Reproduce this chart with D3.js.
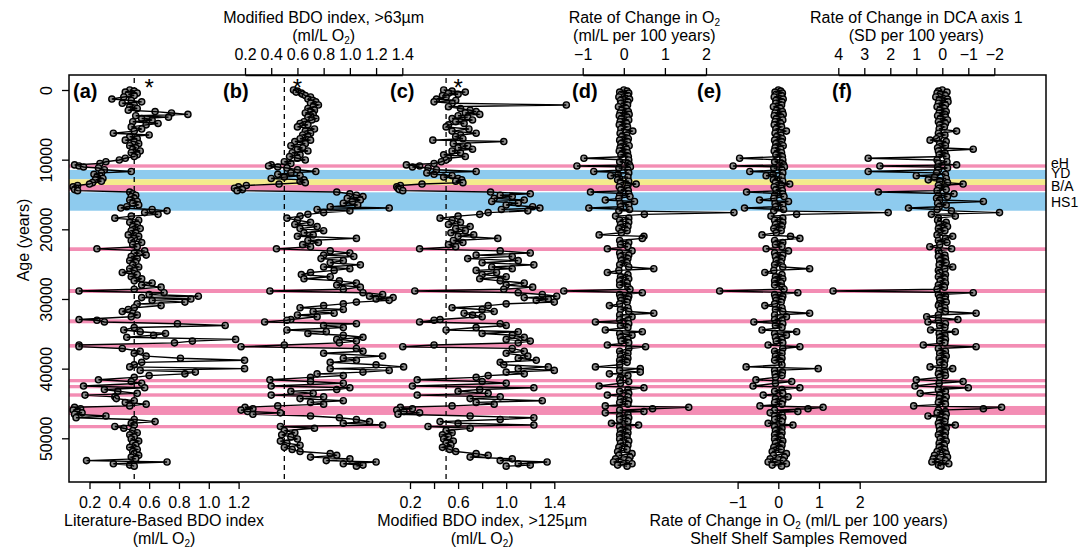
<!DOCTYPE html>
<html>
<head>
<meta charset="utf-8">
<script src="https://cdn.jsdelivr.net/npm/d3@7"></script>
<style>
  body { margin: 0; background: #fff; }
  svg { font-family: 'Liberation Sans', Arial, sans-serif; }
</style>
</head>
<body>
<svg id="coresvg" width="1091" height="552"></svg>
<script>
// sample ages (years)
const ages = [
  0, 150, 300, 450, 600, 800, 1000, 1300, 1500, 1700,
  1900, 2150, 2400, 2650, 2900, 3100, 3300, 3500, 3700, 3900,
  4100, 4300, 4550, 4800, 5000, 5300, 5600, 5900, 6200, 6450,
  6700, 7000, 7200, 7400, 7700, 8000, 8300, 8500, 8750, 9000,
  9300, 9550, 9800, 10050, 10300, 10550, 10750, 10900, 11050, 11200,
  11450, 11700, 11900, 12100, 12300, 12500, 12700, 12900, 13100, 13300,
  13500, 13700, 13900, 14100, 14300, 14450, 14650, 14900, 15100, 15300,
  15550, 15800, 16000, 16250, 16500, 16750, 16950, 17150, 17350, 17600,
  17850, 18100, 18400, 18700, 19000, 19300, 19600, 19900, 20200, 20500,
  20800, 21000, 21300, 21600, 21900, 22200, 22500, 22800, 23100, 23400,
  23700, 23900, 24200, 24500, 24800, 25100, 25400, 25650, 25900, 26200,
  26500, 26800, 27100, 27400, 27700, 28000, 28300, 28600, 28850, 29100,
  29350, 29600, 29800, 30000, 30200, 30450, 30700, 30950, 31250, 31500,
  31800, 32050, 32300, 32550, 32950, 33050, 33300, 33550, 33800, 34100,
  34450, 34700, 34950, 35200, 35500, 35800, 36050, 36300, 36600, 36850,
  37100, 37500, 37800, 38200, 38500, 38800, 39100, 39450, 39750, 40000,
  40250, 40500, 40750, 41000, 41250, 41600, 41850, 42100, 42500, 42750,
  43000, 43250, 43550, 43800, 44050, 44300, 44600, 44850, 45100, 45350,
  45550, 45750, 45950, 46150, 46350, 46550, 46800, 47050, 47300, 47600,
  47850, 48100, 48300, 48550, 48900, 49200, 49500, 49800, 50100, 50400,
  50700, 51000, 51300, 51600, 51900, 52200, 52450, 52700, 52950, 53200,
  53400, 53650, 53850, 54000
];

// (a) literature-based BDO index
const bdoLit = [
  0.47, 0.50, 0.44, 0.52, 0.46, 0.50, 0.43, 0.35, 0.48, 0.55,
  0.42, 0.50, 0.47, 0.52, 0.46, 0.64, 0.75, 0.86, 0.51, 0.73,
  0.55, 0.62, 0.49, 0.66, 0.58, 0.48, 0.55, 0.50, 0.36, 0.60,
  0.47, 0.52, 0.44, 0.50, 0.53, 0.47, 0.51, 0.49, 0.54, 0.48,
  0.52, 0.50, 0.44, 0.40, 0.31, 0.27, 0.10, 0.13, 0.16, 0.26,
  0.30, 0.48, 0.28, 0.23, 0.27, 0.25, 0.29, 0.24, 0.28, 0.22,
  0.20, 0.12, 0.09, 0.11, 0.10, 0.12, 0.47, 0.49, 0.51, 0.48,
  0.50, 0.47, 0.52, 0.49, 0.53, 0.45, 0.41, 0.62, 0.72, 0.57,
  0.66, 0.48, 0.37, 0.53, 0.47, 0.52, 0.49, 0.54, 0.48, 0.51,
  0.46, 0.53, 0.50, 0.48, 0.55, 0.49, 0.52, 0.25, 0.57, 0.50,
  0.58, 0.48, 0.52, 0.47, 0.51, 0.49, 0.53, 0.47, 0.50, 0.42,
  0.52, 0.48, 0.55, 0.50, 0.62, 0.55, 0.68, 0.50, 0.13, 0.70,
  0.60, 0.93, 0.55, 0.88, 0.62, 0.84, 0.52, 0.68, 0.50, 0.46,
  0.42, 0.49, 0.52, 0.48, 0.13, 0.25, 0.30, 0.79, 1.11, 0.50,
  0.43, 0.54, 0.71, 0.63, 0.45, 1.18, 0.89, 0.77, 0.13, 0.13,
  0.42, 0.54, 0.50, 0.58, 0.81, 1.24, 0.55, 0.50, 0.47, 1.24,
  0.54, 0.91, 0.84, 0.60, 0.50, 0.26, 0.48, 0.55, 0.16, 0.57,
  0.30, 0.39, 0.52, 0.17, 0.37, 0.38, 0.50, 0.44, 0.58, 0.47,
  0.10, 0.14, 0.09, 0.12, 0.15, 0.10, 0.31, 0.11, 0.50, 0.64,
  0.48, 0.50, 0.37, 0.43, 0.49, 0.52, 0.47, 0.50, 0.48, 0.53,
  0.49, 0.51, 0.47, 0.52, 0.49, 0.50, 0.53, 0.48, 0.51, 0.18,
  0.72, 0.36, 0.47, 0.50
];

// (b) modified BDO index, >63um
const bdo63 = [
  0.57, 0.60, 0.59, 0.63, 0.64, 0.66, 0.70, 0.68, 0.72, 0.74,
  0.70, 0.76, 0.72, 0.68, 0.73, 0.70, 0.66, 0.72, 0.70, 0.68,
  0.74, 0.71, 0.65, 0.62, 0.68, 0.60, 0.73, 0.66, 0.70, 0.64,
  0.68, 0.62, 0.70, 0.58, 0.66, 0.55, 0.64, 0.60, 0.68, 0.56,
  0.62, 0.54, 0.60, 0.66, 0.50, 0.55, 0.40, 0.38, 0.45, 0.52,
  0.60, 0.74, 0.55, 0.45, 0.62, 0.50, 0.40, 0.65, 0.62, 0.66,
  0.46, 0.21, 0.15, 0.12, 0.18, 0.14, 0.90, 1.00, 1.05, 1.10,
  0.98, 1.08, 1.02, 0.95, 1.06, 0.85, 1.30, 0.75, 1.00, 0.80,
  0.68, 0.62, 0.52, 0.60, 0.70, 0.58, 0.75, 0.62, 0.80, 0.65,
  0.72, 0.60, 1.05, 0.68, 0.76, 0.64, 0.70, 0.44, 0.85, 1.00,
  0.80, 1.03, 0.78, 0.95, 0.85, 1.08, 0.80, 1.00, 0.88, 0.70,
  0.63, 0.85, 0.65, 0.92, 1.05, 0.90, 1.08, 0.95, 0.39, 1.10,
  1.25, 1.15, 1.33, 1.20, 1.30, 1.05, 0.95, 0.80, 0.62, 0.95,
  0.72, 0.88, 0.60, 0.75, 0.55, 0.52, 0.35, 1.05, 0.80, 0.95,
  0.52, 0.82, 0.68, 0.95, 1.10, 0.90, 1.05, 0.92, 0.50, 0.17,
  1.05, 1.10, 0.80, 1.25, 0.95, 1.05, 0.85, 1.20, 1.41, 0.85,
  1.30, 1.10, 0.75, 0.95, 0.70, 0.39, 0.70, 0.95, 0.40, 1.00,
  0.90, 0.55, 0.72, 0.40, 0.80, 0.62, 0.95, 0.70, 0.80, 0.45,
  0.20, 0.26, 0.17, 0.22, 0.47, 0.26, 0.70, 0.92, 1.05, 1.15,
  0.95, 1.25, 0.47, 0.73, 0.50, 0.58, 0.48, 0.55, 0.60, 0.47,
  0.52, 0.62, 0.50, 0.56, 0.62, 0.85, 0.90, 0.70, 1.00, 0.82,
  1.20, 0.95, 1.10, 1.05
];

// (c) modified BDO index, >125um
const bdo125 = [
  0.48, 0.55, 0.66, 0.52, 0.60, 0.47, 0.50, 0.42, 0.58, 0.40,
  0.55, 1.50, 0.52, 0.62, 0.70, 0.75, 0.66, 0.78, 0.60, 0.68,
  0.55, 0.72, 0.58, 0.65, 0.52, 0.50, 0.69, 0.55, 0.75, 0.62,
  0.58, 0.64, 0.39, 0.98, 0.56, 0.68, 0.60, 0.72, 0.55, 0.62,
  0.48, 0.66, 0.52, 0.50, 0.46, 0.40, 0.17, 0.28, 0.22, 0.35,
  0.42, 0.75, 0.34, 0.40, 0.55, 0.48, 0.60, 0.63, 0.58, 0.64,
  0.30, 0.12, 0.09, 0.10, 0.11, 0.14, 0.87, 1.20, 0.95, 1.05,
  0.90, 1.15, 0.88, 1.10, 1.00, 1.22, 1.28, 0.96, 1.18, 0.85,
  0.78, 0.60, 0.45, 0.55, 0.62, 0.52, 0.70, 0.58, 0.66, 0.54,
  0.73, 0.60, 0.93, 0.56, 0.64, 0.52, 0.58, 0.28, 0.95, 1.20,
  0.75, 1.05, 0.68, 1.10, 0.80, 1.23, 0.88, 1.05, 0.75, 0.92,
  0.80, 1.00, 0.78, 0.95, 1.15, 1.00, 1.22, 0.98, 0.24, 1.10,
  1.30, 1.42, 1.15, 1.35, 1.25, 1.40, 1.00, 0.85, 0.55, 0.80,
  0.90, 0.65, 0.72, 0.80, 0.45, 0.40, 0.28, 0.95, 1.00, 0.75,
  0.50, 1.10, 0.80, 1.05, 1.15, 1.00, 1.20, 1.10, 0.40, 0.14,
  1.05, 1.15, 1.00, 1.18, 1.10, 1.25, 0.95, 0.98, 1.35, 1.10,
  1.40, 1.00, 1.15, 0.85, 0.75, 0.26, 0.80, 1.00, 0.22, 1.23,
  0.78, 0.60, 0.85, 0.26, 0.95, 0.70, 1.30, 0.75, 0.90, 0.55,
  0.12, 0.22, 0.09, 0.15, 0.28, 0.10, 0.70, 1.23, 0.95, 0.45,
  0.60, 1.23, 0.35, 0.70, 0.50, 0.55, 0.47, 0.52, 0.48, 0.56,
  0.50, 0.54, 0.47, 0.53, 0.58, 0.75, 0.85, 0.70, 1.05, 0.95,
  1.34, 1.10, 1.20, 1.00
];

// (d) rate of change in O2, ml/L per 100 years
const rateO2 = [
  0.00, 0.08, -0.10, 0.12, -0.06, 0.10, -0.12, 0.14, -0.08, 0.10,
  -0.07, 0.09, -0.13, 0.06, -0.05, 0.11, -0.09, 0.13, -0.11, 0.08,
  -0.06, 0.12, -0.09, 0.07, -0.11, 0.09, -0.07, 0.22, -0.09, 0.07,
  -0.05, 0.11, -0.10, 0.09, -0.07, 0.13, -0.09, 0.07, -0.11, 0.09,
  -0.07, 0.11, -0.97, 0.12, -0.10, 0.10, 0.14, -1.14, 0.16, -0.12,
  0.10, -0.73, 0.12, -0.14, -0.32, 0.10, -0.10, -0.15, 0.12, -0.08,
  0.30, 0.10, -0.11, 0.08, -0.07, 0.11, -0.81, 0.12, -0.10, 0.15,
  -0.12, -0.45, 0.26, -0.09, 0.12, -0.08, -0.85, 0.14, -0.12, 2.68,
  0.50, -0.20, 0.12, -0.10, 0.12, -0.08, 0.10, -0.12, 0.08, -0.06,
  -0.60, 0.49, 0.45, -0.10, 0.12, -0.08, 0.10, -0.40, 0.20, -0.10,
  0.12, -0.08, 0.10, -0.06, 0.08, -0.10, 0.12, 0.73, -0.12, -0.40,
  0.10, -0.08, 0.12, -0.10, 0.08, -0.10, 0.10, 0.15, -1.46, 0.45,
  -0.10, 0.12, -0.08, 0.10, -0.06, 0.08, -0.10, -0.35, 0.10, -0.08,
  0.12, 0.73, -0.10, 0.20, -0.10, 0.10, -0.69, 0.12, -0.08, 0.10,
  -0.45, 0.45, -0.10, 0.20, -0.08, 0.10, -0.06, 0.12, -0.40, 0.53,
  0.12, -0.10, 0.10, -0.08, 0.10, -0.10, 0.08, -0.10, -0.69, 0.40,
  -0.10, 0.40, -0.35, 0.10, -0.08, -0.10, 0.12, -0.08, -0.60, 0.49,
  0.10, -0.10, 0.12, -0.40, 0.10, -0.08, 0.12, -0.10, 0.10, -0.45,
  1.58, 0.70, -0.10, 0.49, -0.45, 0.10, -0.10, 0.12, -0.10, 0.10,
  -0.30, 0.36, -0.10, 0.10, -0.08, 0.10, -0.10, 0.08, -0.10, 0.12,
  -0.08, 0.10, -0.12, 0.08, -0.15, 0.20, -0.12, 0.15, -0.20, 0.12,
  -0.25, 0.20, -0.15, 0.08
];

// (e) rate of change in O2, shelf samples removed
const rateO2Shelf = [
  0.00, 0.06, -0.08, 0.10, -0.05, 0.08, -0.10, 0.12, -0.06, 0.09,
  -0.06, 0.08, -0.12, 0.05, -0.04, 0.10, -0.08, 0.12, -0.10, 0.07,
  -0.05, 0.11, -0.08, 0.06, -0.10, 0.08, -0.06, 0.20, -0.08, 0.06,
  -0.04, 0.10, -0.09, 0.08, -0.06, 0.12, -0.08, 0.06, -0.10, 0.08,
  -0.06, 0.10, -0.95, 0.11, -0.09, 0.09, 0.13, -1.11, 0.15, -0.11,
  0.09, -0.70, 0.11, -0.13, -0.30, 0.09, -0.09, -0.12, 0.11, -0.07,
  0.28, 0.09, -0.10, 0.07, -0.06, 0.10, -0.78, 0.11, -0.09, 0.14,
  -0.11, -0.46, 0.25, -0.08, 0.11, -0.07, -0.83, 0.13, -0.11, 2.70,
  0.45, -0.18, 0.11, -0.09, 0.11, -0.07, 0.09, -0.11, 0.07, -0.05,
  -0.40, 0.30, 0.53, -0.09, 0.11, -0.07, 0.09, -0.30, 0.25, -0.09,
  0.11, -0.07, 0.09, -0.05, 0.07, -0.09, 0.11, 0.77, -0.11, -0.33,
  0.09, -0.07, 0.11, -0.09, 0.07, -0.09, 0.09, 0.14, -1.44, 0.48,
  -0.09, 0.11, -0.07, 0.09, -0.05, 0.07, -0.09, -0.33, 0.09, -0.07,
  0.11, 0.77, -0.09, 0.20, -0.09, 0.09, -0.60, 0.11, -0.07, 0.09,
  -0.40, 0.45, -0.09, 0.20, -0.07, 0.09, -0.05, 0.11, -0.25, 0.53,
  0.11, -0.09, 0.09, -0.07, 0.09, -0.09, 0.07, 0.09, -0.79, 0.98,
  -0.09, 0.10, -0.08, 0.09, -0.07, -0.55, 0.33, -0.07, -0.62, 0.53,
  0.09, -0.09, 0.11, -0.37, 0.24, -0.07, 0.11, -0.09, 0.09, -0.45,
  1.10, 0.73, -0.09, 0.48, -0.20, 0.09, -0.09, 0.11, -0.09, 0.09,
  -0.25, 0.36, -0.09, 0.09, -0.07, 0.09, -0.09, 0.07, -0.09, 0.11,
  -0.07, 0.09, -0.11, 0.07, -0.15, 0.20, -0.12, 0.15, -0.20, 0.12,
  -0.25, 0.20, -0.15, 0.08
];

// (f) rate of change in DCA axis 1, SD per 100 years
const rateDCA = [
  0.00, 0.15, -0.18, 0.20, 0.08, -0.12, 0.25, -0.20, 0.12, -0.22,
  0.15, -0.12, 0.20, -0.08, 0.10, -0.15, 0.12, -0.10, 0.18, -0.12,
  0.08, -0.20, 0.15, -0.12, 0.10, -0.08, 0.12, -0.55, 0.15, -0.10,
  0.12, 0.22, 0.47, -0.15, 0.10, -0.12, 0.18, -1.19, 0.15, -0.10,
  0.12, -0.16, 2.85, 0.20, -0.18, 0.15, -0.55, 2.40, 0.18, -0.20,
  0.15, 2.85, 0.22, -0.12, 1.00, 0.30, -0.15, 0.54, 0.10, -0.20,
  -0.80, 0.15, -0.10, 0.12, -0.15, 0.20, 2.46, -0.45, 0.15, -0.20,
  0.22, 0.10, -1.58, 0.18, -0.15, 0.12, 1.30, 0.20, -0.35, -2.20,
  0.42, -0.50, 0.15, 0.18, -0.15, 0.12, -0.20, 0.15, -0.10, 0.12,
  0.20, -0.40, -0.12, 0.15, -0.18, 0.10, 0.48, -0.36, 0.15, 0.12,
  -0.10, 0.15, -0.12, 0.10, -0.15, 0.12, -0.40, -0.10, 0.15, 0.10,
  -0.12, 0.15, -0.10, 0.08, -0.12, 0.15, -0.08, 0.20, 4.20, -1.19,
  0.15, -0.12, 0.10, -0.10, 0.08, -0.15, 0.12, 0.15, -0.10, 0.08,
  -0.12, -1.30, 0.15, 0.60, -0.60, 0.15, 0.55, -0.12, 0.10, -0.10,
  0.45, -0.50, 0.12, -0.10, 0.10, -0.12, 0.10, -0.10, 0.73, -1.30,
  0.15, -0.12, 0.10, -0.15, 0.12, -0.10, 0.10, -0.08, 0.47, -0.40,
  0.12, -0.10, 0.15, -0.12, 0.10, 1.00, -0.80, 0.12, 1.05, -1.00,
  0.15, -0.12, 0.85, 0.10, -0.15, 0.12, -0.10, 0.15, -0.12, 1.10,
  -2.28, -1.58, 0.15, -0.12, 0.20, -0.15, 0.55, -0.12, 0.10, -0.10,
  0.15, -0.50, 0.12, -0.15, 0.10, -0.12, 0.15, -0.10, 0.08, -0.15,
  0.12, -0.08, 0.12, -0.10, 0.20, -0.15, 0.30, -0.20, 0.35, -0.12,
  0.40, -0.25, 0.15, 0.05
];

// shaded intervals (years)
const bandStart = [10670, 11480, 12820, 13640, 14690, 22580, 28570, 32920, 36460, 41490, 42350, 43540, 45360, 48090];
const bandEnd = [11150, 12820, 13640, 14500, 17330, 23110, 29140, 33490, 36990, 41960, 42820, 44030, 46650, 48560];
const bandKind = ['pink', 'blue', 'yellow', 'pink', 'blue', 'pink', 'pink', 'pink', 'pink', 'pink', 'pink', 'pink', 'pink', 'pink'];

const eventNames = ['eH', 'YD', 'B/A', 'HS1'];
const eventAges = [10480, 11920, 13780, 16080];

const ageTicks = [0, 10000, 20000, 30000, 40000, 50000];
const litTicks = [0.2, 0.4, 0.6, 0.8, 1.0, 1.2];
const bdoTicks = [0.2, 0.4, 0.6, 0.8, 1.0, 1.2, 1.4];
const bdo125Labels = [0.2, 0.6, 1.0, 1.4];
const rateTicks = [-1, 0, 1, 2];
const dcaTicks = [4, 3, 2, 1, 0, -1, -2];

class coreProfile {
  constructor() {
    this.svg = d3.select('#coresvg');
    this.left = 69;
    this.right = 1046;
    this.top = 75;
    this.bottom = 482;

    this.yScale = d3
      .scaleLinear()
      .domain([0, 50000])
      .range([90, 438.3]);

    this.bandLayer = this.svg.append('g');
    this.refLayer = this.svg.append('g');
    this.pointLayer = this.svg.append('g');
    this.lineLayer = this.svg.append('g');
    this.axisLayer = this.svg.append('g');
  }

  clear() {
    this.svg.html('');
  }

  drawBands() {
    var colors = { pink: '#f38db4', blue: '#8ecbee', yellow: '#f4ea8c' };
    this.bandLayer
      .selectAll('rect')
      .data(bandStart)
      .join('rect')
      .attr('x', this.left)
      .attr('width', this.right - this.left)
      .attr('y', d => this.yScale(d))
      .attr('height', (d, i) => this.yScale(bandEnd[i]) - this.yScale(d))
      .attr('fill', (d, i) => colors[bandKind[i]]);
  }

  drawFrame() {
    this.axisLayer
      .append('rect')
      .attr('x', this.left)
      .attr('y', this.top)
      .attr('width', this.right - this.left)
      .attr('height', this.bottom - this.top)
      .attr('fill', 'none')
      .attr('stroke', '#000')
      .attr('stroke-width', 1.5);
  }

  buildAgeAxis() {
    var g = this.axisLayer
      .append('g')
      .attr('transform', `translate(${this.left}, 0)`)
      .call(
        d3
          .axisLeft(this.yScale)
          .tickValues(ageTicks)
          .tickFormat(d3.format('d'))
          .tickSize(7)
          .tickSizeOuter(0)
      )
      .attr('font-family', null)
      .attr('font-size', 16);
    g.select('.domain').remove();
    g.selectAll('.tick line').attr('stroke-width', 1.3);
    g.selectAll('.tick text')
      .attr('x', 0)
      .attr('y', -17)
      .attr('dy', 0)
      .attr('text-anchor', 'middle')
      .attr('fill', '#000')
      .attr('transform', 'rotate(-90)');

    this.axisLayer
      .append('text')
      .attr('transform', 'translate(29, 240) rotate(-90)')
      .attr('text-anchor', 'middle')
      .attr('font-size', 16)
      .text('Age (years)');
  }

  // text with an optional subscript 2 (marked as '_2')
  addLabel(x, y, parts) {
    var t = this.axisLayer
      .append('text')
      .attr('x', x)
      .attr('y', y)
      .attr('text-anchor', 'middle')
      .attr('font-size', 16);
    var shifted = false;
    parts.forEach(s => {
      if (s == '_2') {
        t.append('tspan').attr('font-size', 10).attr('dy', 3).text('2');
        shifted = true;
      } else {
        t.append('tspan').attr('dy', shifted ? -3 : 0).text(s);
        shifted = false;
      }
    });
  }

  drawPanel(p) {
    var x = d3.scaleLinear().domain(p.domain).range(p.range);
    var y = this.yScale;
    var pts = ages.map((a, i) => [a, p.values[i]]);

    if (p.ref != null) {
      this.refLayer
        .append('line')
        .attr('x1', x(p.ref))
        .attr('x2', x(p.ref))
        .attr('y1', this.top + 3)
        .attr('y2', this.bottom)
        .attr('stroke', '#000')
        .attr('stroke-width', 1.3)
        .attr('stroke-dasharray', '5,4');
      this.axisLayer
        .append('text')
        .attr('x', x(p.star))
        .attr('y', 96)
        .attr('text-anchor', 'middle')
        .attr('font-size', 24)
        .text('*');
    }

    this.pointLayer
      .append('g')
      .selectAll('circle')
      .data(pts)
      .join('circle')
      .attr('cx', d => x(d[1]))
      .attr('cy', d => y(d[0]))
      .attr('r', 3.1)
      .attr('fill', '#8e8e8e')
      .attr('stroke', '#000')
      .attr('stroke-width', 1.4);

    // lines over the points, as the reference overplots them
    this.lineLayer
      .append('path')
      .datum(pts)
      .attr('fill', 'none')
      .attr('stroke', '#000')
      .attr('stroke-width', 1.4)
      .attr(
        'd',
        d3
          .line()
          .x(d => x(d[1]))
          .y(d => y(d[0]))
      );

    var isTop = p.side == 'top';
    var axis = isTop ? d3.axisTop(x) : d3.axisBottom(x);
    axis
      .tickValues(p.ticks)
      .tickSize(7)
      .tickSizeOuter(0)
      .tickPadding(8)
      .tickFormat(d => (p.labels.includes(d) ? p.format(d) : ''));

    var g = this.axisLayer
      .append('g')
      .attr('transform', `translate(0, ${isTop ? this.top : this.bottom})`)
      .call(axis)
      .attr('font-family', null)
      .attr('font-size', 16);
    g.selectAll('line, path').attr('stroke-width', 1.3);
    g.selectAll('text').attr('fill', '#000');

    var mid = (p.range[0] + p.range[1]) / 2;
    this.addLabel(mid, isTop ? 23 : 526, p.title[0]);
    this.addLabel(mid, isTop ? 41 : 544, p.title[1]);

    this.axisLayer
      .append('text')
      .attr('x', p.tagX)
      .attr('y', 98)
      .attr('font-size', 20)
      .attr('font-weight', 'bold')
      .text(p.tag);
  }

  drawEvents() {
    this.axisLayer
      .selectAll('.event')
      .data(eventNames)
      .join('text')
      .attr('class', 'event')
      .attr('x', this.right + 5)
      .attr('y', (d, i) => this.yScale(eventAges[i]) + 5)
      .attr('font-size', 14)
      .text(d => d);
  }
}

var fmt1 = d3.format('.1f');
var fmt0 = d3.format('d');

var panels = [
  { tag: '(a)', tagX: 73, values: bdoLit, domain: [0.2, 1.2], range: [89.5, 238.6], side: 'bottom',
    ticks: litTicks, labels: litTicks, format: fmt1, ref: 0.5, star: 0.6,
    title: [['Literature-Based BDO index'], ['(ml/L O', '_2', ')']] },
  { tag: '(b)', tagX: 223, values: bdo63, domain: [0.2, 1.4], range: [245, 402.3], side: 'top',
    ticks: bdoTicks, labels: bdoTicks, format: fmt1, ref: 0.5, star: 0.6,
    title: [['Modified BDO index, >63µm'], ['(ml/L O', '_2', ')']] },
  { tag: '(c)', tagX: 390, values: bdo125, domain: [0.2, 1.4], range: [410, 554.3], side: 'bottom',
    ticks: bdoTicks, labels: bdo125Labels, format: fmt1, ref: 0.5, star: 0.6,
    title: [['Modified BDO index, >125µm'], ['(ml/L O', '_2', ')']] },
  { tag: '(d)', tagX: 572, values: rateO2, domain: [-1, 2], range: [582.7, 706], side: 'top',
    ticks: rateTicks, labels: rateTicks, format: fmt0,
    title: [['Rate of Change in O', '_2'], ['(ml/L per 100 years)']] },
  { tag: '(e)', tagX: 697, values: rateO2Shelf, domain: [-1, 2], range: [737.6, 859.7], side: 'bottom',
    ticks: rateTicks, labels: rateTicks, format: fmt0,
    title: [['Rate of Change in O', '_2', ' (ml/L per 100 years)'], ['Shelf Shelf Samples Removed']] },
  { tag: '(f)', tagX: 832, values: rateDCA, domain: [4, -2], range: [838.3, 994.3], side: 'top',
    ticks: dcaTicks, labels: dcaTicks, format: fmt0,
    title: [['Rate of Change in DCA axis 1'], ['(SD per 100 years)']] }
];

var chart = new coreProfile();
chart.drawBands();
panels.forEach(p => chart.drawPanel(p));
chart.drawFrame();
chart.buildAgeAxis();
chart.drawEvents();
</script>
</body>
</html>
